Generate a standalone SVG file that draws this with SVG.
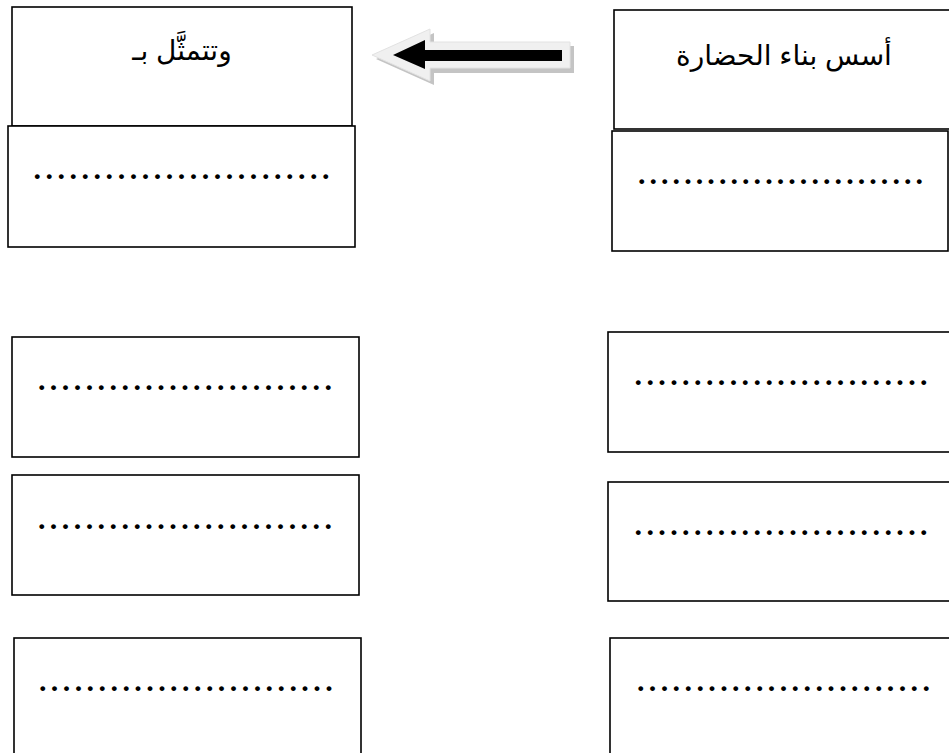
<svg xmlns="http://www.w3.org/2000/svg" width="949" height="753" viewBox="0 0 949 753">
<style>
.box{fill:#fff;stroke:#000;stroke-width:1.6}
.ar{font-family:"Liberation Sans","DejaVu Sans",sans-serif;font-size:28px;fill:#000}
.dots{font-family:"Liberation Serif",serif;font-size:30px;font-weight:bold;fill:#000}
</style>
<rect width="949" height="753" fill="#fff"/>
<g id="connectors">
  <polygon points="376,59 434,33 434,46 574,46 574,73 434,73 434,85" fill="#c4c4c4"/>
  <polygon points="372,55 430,29 430,42 570,42 570,68 430,68 430,81" fill="#f0f0f0" stroke="#e2e2e2" stroke-width="1"/>
  <polygon points="393,55 425,40 425,50 562,50 562,61 425,61 425,69" fill="#000"/>
</g>
<g id="node-L0">
  <rect class="box" x="12" y="7" width="340" height="119"/>
  <text class="ar" x="182" y="60" text-anchor="middle" direction="rtl">وتتمثَّل بـ</text>
</g>
<g id="node-L0b">
  <rect class="box" x="8" y="126" width="347" height="121"/>
  <text class="dots" x="33.5" y="178.5" letter-spacing="4.52">.........................</text>
</g>
<g id="node-R0">
  <rect class="box" x="614" y="10" width="345" height="119"/>
  <text class="ar" x="784" y="65" text-anchor="middle" direction="rtl">أسس بناء الحضارة</text>
</g>
<g id="node-R0b">
  <rect class="box" x="612" y="131" width="336" height="120"/>
  <text class="dots" x="637.9" y="183.5" letter-spacing="4.07">.........................</text>
</g>
<g id="node-L1">
  <rect class="box" x="12" y="337" width="347" height="120"/>
  <text class="dots" x="37.9" y="390" letter-spacing="4.44">.........................</text>
</g>
<g id="node-L2">
  <rect class="box" x="12" y="475" width="347" height="120"/>
  <text class="dots" x="37.9" y="528.5" letter-spacing="4.44">.........................</text>
</g>
<g id="node-L3">
  <rect class="box" x="14" y="638" width="347" height="140"/>
  <text class="dots" x="38.9" y="690.5" letter-spacing="4.43">.........................</text>
</g>
<g id="node-R1">
  <rect class="box" x="608" y="332" width="360" height="120"/>
  <text class="dots" x="634.5" y="384.5" letter-spacing="4.4">.........................</text>
</g>
<g id="node-R2">
  <rect class="box" x="608" y="482" width="360" height="119"/>
  <text class="dots" x="634.5" y="534.5" letter-spacing="4.4">.........................</text>
</g>
<g id="node-R3">
  <rect class="box" x="610" y="638" width="360" height="140"/>
  <text class="dots" x="636.9" y="690.5" letter-spacing="4.4">.........................</text>
</g>
</svg>
